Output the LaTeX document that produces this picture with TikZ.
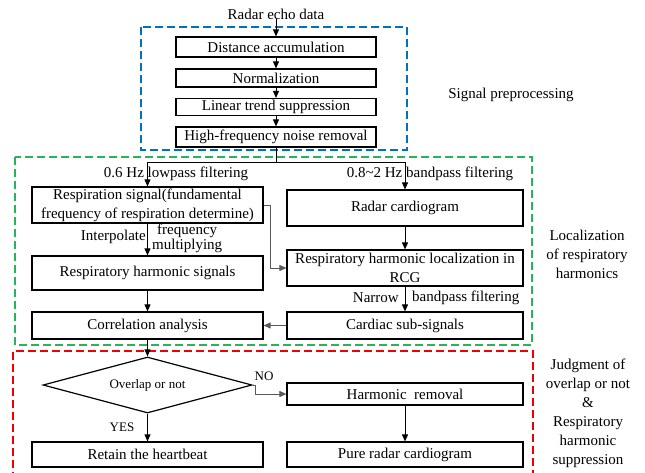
\documentclass[tikz,border=0pt]{standalone}
\usepackage{fontspec}
\setmainfont{Liberation Serif}
\usetikzlibrary{shapes.geometric,arrows.meta}
\definecolor{dblue}{RGB}{0,112,192}
\definecolor{dgreen}{RGB}{40,180,90}
\definecolor{dred}{RGB}{240,0,0}
\tikzset{
  box/.style={draw=black,line width=1.2pt,inner sep=0pt,align=center,font=\fontsize{15}{19}\selectfont},
  lbl/.style={inner sep=0pt,font=\fontsize{15}{19}\selectfont},
  slbl/.style={inner sep=0pt,font=\fontsize{13}{16}\selectfont},
  arr/.style={line width=0.9pt,-{Triangle[length=7pt,width=6pt]}},
  ln/.style={line width=0.9pt},
  grayln/.style={draw=black!65},
  frame/.style={line width=1.1pt,dash pattern=on 8pt off 4pt},
}
\begin{document}
\begin{tikzpicture}[x=1pt,y=-1pt]
\useasboundingbox (0,0) rectangle (645,472);
% frames
\draw[frame,dblue] (141,27) rectangle (407,150);
\draw[frame,dgreen] (15,157) rectangle (532,345);
\draw[frame,dred] (13,480) -- (13,351) -- (533,351) -- (533,480);
% top
\node[lbl] (echo) at (276,14) {Radar echo data};
\node[box,minimum width=200pt,minimum height=20pt] (d1) at (276,47) {Distance accumulation};
\node[box,minimum width=200pt,minimum height=18pt] (d2) at (276,78) {Normalization};
\node[box,minimum width=200pt,minimum height=17pt] (d3) at (276,107) {Linear trend suppression};
\node[box,minimum width=200pt,minimum height=20pt] (d4) at (276,137) {High-frequency noise removal};
\draw[arr] (echo.south) -- (d1.north);
\draw[arr] (d1.south) -- (d2.north);
\draw[arr] (d2.south) -- (d3.north);
\draw[arr] (d3.south) -- (d4.north);
\node[lbl] (sp) at (511,95) {Signal preprocessing};
% middle
\coordinate (split) at (276,162);
\node[box,minimum width=231pt,minimum height=36pt] (lb1) at (147.5,205) {Respiration signal(fundamental\\frequency of respiration determine)};
\node[box,minimum width=231pt,minimum height=34pt] (lb2) at (147.5,273) {Respiratory harmonic signals};
\node[box,minimum width=231pt,minimum height=27pt] (corr) at (147.5,325.5) {Correlation analysis};
\node[box,minimum width=236pt,minimum height=36pt] (rc) at (405,208) {Radar cardiogram};
\node[box,minimum width=236pt,minimum height=36pt] (rhl) at (405,268) {Respiratory harmonic localization in\\RCG};
\node[box,minimum width=236pt,minimum height=27pt] (cs) at (405,325.5) {Cardiac sub-signals};
\draw[ln] (d4.south) -- (split);
\draw[arr] (split) -| (lb1.north);
\draw[arr] (split) -| (rc.north);
\node[lbl] (lp) at (176,174) {0.6 Hz lowpass filtering};
\node[lbl] (bp) at (430,174) {0.8\textasciitilde2 Hz bandpass filtering};
\draw[arr] (lb1.south) -- (lb2.north);
\node[lbl,anchor=east] (interp) at (146,237) {Interpolate};
\node[lbl,anchor=west,align=center,font=\fontsize{15}{15}\selectfont] (fm) at (152,238) {frequency\\multiplying};
\draw[arr,grayln] (lb1.east) -- ++(7,0) |- (rhl.west);
\draw[arr] (rc.south) -- (rhl.north);
\draw[arr] (rhl.south) -- (cs.north);
\node[lbl,anchor=east] (narrow) at (399,298) {Narrow};
\node[lbl,anchor=west] (bpf) at (412,298) {bandpass filtering};
\draw[arr] (lb2.south) -- (corr.north);
\draw[arr,grayln] (cs.west) -- (corr.east);
\node[lbl,align=center] (loc) at (587,254) {Localization\\of respiratory\\harmonics};
% bottom
\node[diamond,draw=black,line width=1.2pt,inner sep=0pt,shape aspect=3.7,minimum width=209pt,minimum height=56pt,font=\fontsize{13}{16}\selectfont] (dia) at (147.5,385) {Overlap or not};
\node[box,minimum width=231pt,minimum height=25pt] (ret) at (147.5,454.5) {Retain the heartbeat};
\node[box,minimum width=236pt,minimum height=22pt] (hr) at (405,394) {Harmonic\ \ removal};
\node[box,minimum width=236pt,minimum height=25pt] (pure) at (405,454.5) {Pure radar cardiogram};
\draw[arr] (corr.south) -- (dia.north);
\draw[arr] (dia.south) -- (ret.north);
\draw[arr,grayln] (dia.east) -- ++(3,0) |- (hr.west);
\draw[arr] (hr.south) -- (pure.north);
\node[slbl] (no) at (264,376) {NO};
\node[slbl] (yes) at (122,427) {YES};
\node[lbl,align=center] (judg) at (588,413) {Judgment of\\overlap or not\\\&\\Respiratory\\harmonic\\suppression};
\end{tikzpicture}
\end{document}
